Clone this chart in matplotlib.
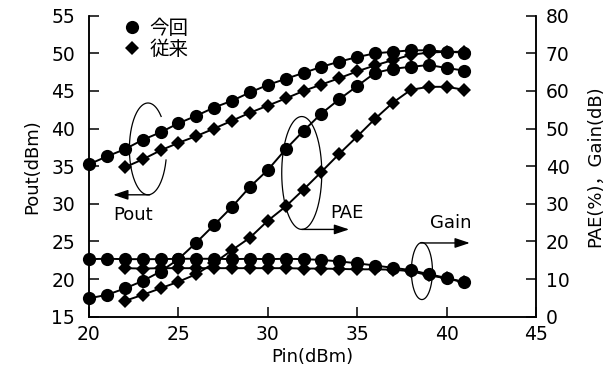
import numpy as np
import matplotlib
matplotlib.use('Agg')
import matplotlib.pyplot as plt
from matplotlib.lines import Line2D

plt.rcParams['font.family'] = ['DejaVu Sans', 'Noto Sans CJK JP']
plt.rcParams['font.size'] = 13

# --- data ---
pin_now = [20, 21, 22, 23, 24, 25, 26, 27, 28, 29, 30, 31, 32, 33, 34, 35, 36, 37, 38, 39, 40, 41]
pout_now = [35.25, 36.3, 37.25, 38.5, 39.5, 40.7, 41.7, 42.8, 43.7, 44.8, 45.8,
            46.6, 47.4, 48.2, 48.9, 49.5, 50.0, 50.2, 50.4, 50.4, 50.2, 50.1]
pae_now = [4.9, 5.8, 7.5, 9.5, 12.0, 15.3, 19.7, 24.4, 29.2, 34.5, 39.0,
           44.5, 49.4, 54.0, 57.8, 61.3, 64.8, 65.9, 66.4, 66.9, 66.1, 65.4]
gain_now = [15.3, 15.4, 15.3, 15.3, 15.3, 15.4, 15.4, 15.4, 15.3, 15.4, 15.3,
            15.4, 15.3, 15.1, 14.7, 14.2, 13.6, 13.0, 12.4, 11.3, 10.3, 9.2]

pin_conv = [22, 23, 24, 25, 26, 27, 28, 29, 30, 31, 32, 33, 34, 35, 36, 37, 38, 39, 40, 41]
pout_conv = [34.85, 35.9, 37.1, 38.1, 39.0, 40.0, 41.05, 42.1, 43.05, 44.0,
             45.0, 45.85, 46.7, 47.6, 48.4, 49.1, 49.8, 50.1, 50.2, 50.2]
pae_conv = [4.2, 5.8, 7.55, 9.3, 11.3, 14.3, 17.7, 21.0, 25.5, 29.3,
            33.8, 38.5, 43.3, 47.9, 52.6, 56.9, 60.3, 61.1, 61.1, 60.3]
gain_conv = [12.9, 12.8, 12.9, 12.9, 12.9, 12.9, 12.9, 12.9, 12.9, 12.9,
             12.8, 12.8, 12.7, 12.6, 12.6, 12.5, 12.1, 11.0, 10.2, 9.1]

labels = ['今回', '従来']

fig = plt.figure(figsize=(6.07, 3.70), dpi=100)
ax = fig.add_axes([0.1466, 0.144, 0.7364, 0.8136])
ax2 = ax.twinx()

circ = dict(marker='o', ms=9.5, mew=0, color='k', lw=1.4, clip_on=False)
diam = dict(marker='D', ms=7, mew=0, color='k', lw=1.4, clip_on=False)

ax.plot(pin_now, pout_now, **circ)
ax.plot(pin_conv, pout_conv, **diam)
ax2.plot(pin_now, pae_now, **circ)
ax2.plot(pin_conv, pae_conv, **diam)
ax2.plot(pin_now, gain_now, **circ)
ax2.plot(pin_conv, gain_conv, **diam)

ax.set_xlim(20, 45)
ax.set_ylim(15, 55)
ax2.set_ylim(0, 80)
ax.set_xticks([20, 25, 30, 35, 40, 45])
ax.set_yticks([15, 20, 25, 30, 35, 40, 45, 50, 55])
ax2.set_yticks([0, 10, 20, 30, 40, 50, 60, 70, 80])

for a in (ax, ax2):
    a.spines['top'].set_visible(False)
    for s in a.spines.values():
        s.set_linewidth(1.1)
ax.tick_params(axis='both', direction='in', length=7, width=1.1, labelsize=13.5)
ax.tick_params(axis='y', pad=10)
ax.tick_params(axis='x', pad=6)
ax2.tick_params(axis='y', direction='in', length=7, width=1.1, labelsize=13.5, pad=7)

ax.set_xlabel('Pin(dBm)', fontsize=13, labelpad=3)
ax.set_ylabel('Pout(dBm)', fontsize=13, labelpad=7)
ax2.set_ylabel('PAE(%)，Gain(dB)', fontsize=13, labelpad=12)

# ellipses + arrows (annotations in left-axis data units)
def ell(cx, cy, rx, ry, t1, t2):
    t = np.radians(np.linspace(t1, t2, 200))
    ax.plot(cx + rx*np.cos(t), cy + ry*np.sin(t), color='k', lw=0.9, clip_on=False, zorder=5)

arrow = dict(arrowstyle='-|>,head_length=0.6,head_width=0.2', color='k', lw=1.0,
             shrinkA=0, shrinkB=0, mutation_scale=15)

ell(23.3, 37.3, 1.04, 6.1, 45, 346)
ax.annotate('', xy=(21.35, 31.2), xytext=(23.4, 31.2), arrowprops=arrow)
ax.text(22.46, 28.5, 'Pout', ha='center', va='center', fontsize=13)

ell(31.9, 34.1, 1.12, 7.5, 0, 360)
ax.annotate('', xy=(34.55, 26.6), xytext=(31.9, 26.6), arrowprops=arrow)
ax.text(34.4, 28.75, 'PAE', ha='center', va='center', fontsize=13)

ell(38.62, 21.07, 0.59, 3.79, 0, 360)
ax.annotate('', xy=(41.3, 24.8), xytext=(38.55, 24.8), arrowprops=arrow)
ax.text(40.25, 27.45, 'Gain', ha='center', va='center', fontsize=13)

handles = [Line2D([], [], marker='o', ms=9.5, mew=0, color='k', ls=''),
           Line2D([], [], marker='D', ms=7, mew=0, color='k', ls='')]
ax.legend(handles, labels, loc='upper left', bbox_to_anchor=(0.074, 0.99),
          frameon=False, borderpad=0, borderaxespad=0, handlelength=1.0,
          handletextpad=0.4, labelspacing=0.12, fontsize=14)

fig.savefig('out.png', dpi=100)
